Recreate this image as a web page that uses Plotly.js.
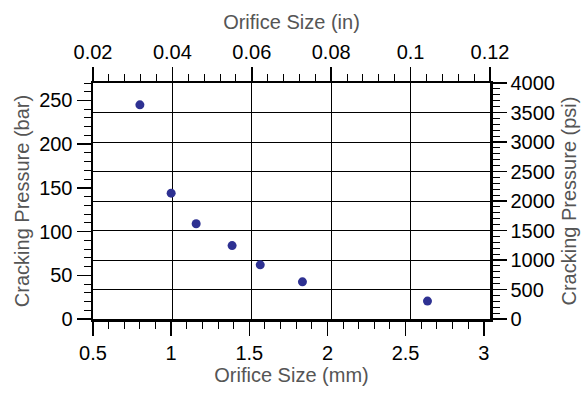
<!DOCTYPE html>
<html>
<head>
<meta charset="utf-8">
<script src="https://cdn.plot.ly/plotly-3.0.1.min.js"></script>
<style>html,body{margin:0;padding:0;background:#fff;}#chart{width:587px;height:395px;}</style>
</head>
<body>
<div id="chart"></div>
<script>
// Data
const orificeMm = [0.8, 1.0, 1.16, 1.39, 1.57, 1.84, 2.64];
const crackingBar = [245, 144, 109, 84, 62, 42.5, 20.5];

const xTitleBottom = "Orifice Size (mm)";
const xTitleTop = "Orifice Size (in)";
const yTitleLeft = "Cracking Pressure (bar)";
const yTitleRight = "Cracking Pressure (psi)";

const FONT = "Liberation Sans, Arial, sans-serif";
const tickFont = {family: FONT, size: 20, color: "#000"};
const titleFont = {family: FONT, size: 20, color: "#555"};

const axisCommon = {
  showline: true, linecolor: "#000", linewidth: 2.5,
  ticks: "outside", ticklen: 14, tickwidth: 1.5, tickcolor: "#000",
  tickfont: tickFont, zeroline: false, fixedrange: true
};
const minorCommon = {ticklen: 7, tickwidth: 1, tickcolor: "#000", ticks: "outside", showgrid: false};

const traces = [
  {
    x: orificeMm, y: crackingBar, type: "scatter", mode: "markers",
    marker: {size: 9, color: "#2e3192"}, showlegend: false, hoverinfo: "skip"
  },
  {
    x: [], y: [], xaxis: "x2", yaxis: "y2", type: "scatter", mode: "markers",
    showlegend: false, hoverinfo: "skip"
  }
];

const layout = {
  width: 587, height: 395,
  margin: {l: 93, r: 97, t: 83, b: 76},
  paper_bgcolor: "#fff", plot_bgcolor: "#fff",
  xaxis: Object.assign({}, axisCommon, {
    range: [0.5, 3.04], dtick: 0.5, tick0: 0.5,
    showgrid: false,
    minor: Object.assign({dtick: 0.1}, minorCommon),
    title: {text: xTitleBottom, font: titleFont, standoff: 6}
  }),
  yaxis: Object.assign({}, axisCommon, {
    range: [0, 270], dtick: 50, tick0: 0,
    showgrid: false,
    minor: Object.assign({dtick: 10}, minorCommon),
    title: {text: yTitleLeft, font: titleFont, standoff: 4}
  }),
  xaxis2: Object.assign({}, axisCommon, {
    overlaying: "x", side: "top", anchor: "y",
    range: [0.02, 0.12], dtick: 0.02, tick0: 0.02,
    showgrid: true, gridcolor: "#000", gridwidth: 1,
    minor: Object.assign({dtick: 0.004}, minorCommon),
    title: {text: xTitleTop, font: titleFont, standoff: 6}
  }),
  yaxis2: Object.assign({}, axisCommon, {
    overlaying: "y", side: "right", anchor: "x",
    range: [0, 4000], dtick: 500, tick0: 0,
    showgrid: true, gridcolor: "#000", gridwidth: 1,
    minor: Object.assign({dtick: 100}, minorCommon),
    title: {text: yTitleRight, font: titleFont, standoff: 8}
  })
};

Plotly.newPlot("chart", traces, layout, {staticPlot: true, displayModeBar: false});
</script>
</body>
</html>
